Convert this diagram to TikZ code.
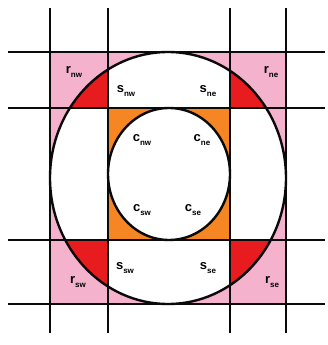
\documentclass[tikz,border=0pt]{standalone}
\usepackage{fontspec}
\setmainfont{Liberation Sans}
\usepackage{xcolor}
\usepackage{tikz}
\usetikzlibrary{positioning}
\definecolor{rpink}{RGB}{244,178,204}
\definecolor{rred}{RGB}{232,28,30}
\definecolor{corange}{RGB}{246,134,36}
\definecolor{lgray}{RGB}{10,10,10}

\newcommand{\lab}[2]{#1\raisebox{-0.45ex}{\fontsize{8}{8}\selectfont #2}}

\begin{document}
\begin{tikzpicture}[
  x=1pt,y=-1pt,
  font=\fontsize{13}{13}\selectfont\bfseries,
  ln/.style={line width=2.6pt,lgray},
  rim/.style={line width=2.4pt,lgray},
  lbl/.style={inner sep=0pt},
  ]
  \useasboundingbox (0,0) rectangle (327,345);
  % regions
  \fill[rpink] (50,52) rectangle (286,304);
  \fill[white] (168,178) ellipse [x radius=118,y radius=126];
  \begin{scope}
    \clip (168,178) ellipse [x radius=118,y radius=126];
    \fill[rred] (50,52) rectangle (108,108);
    \fill[rred] (230,52) rectangle (286,108);
    \fill[rred] (50,240) rectangle (108,304);
    \fill[rred] (230,240) rectangle (286,304);
  \end{scope}
  \fill[corange] (108,108) rectangle (230,240);
  \fill[white] (169,174) ellipse [x radius=61,y radius=66];
  % outlines
  \draw[rim] (168,178) ellipse [x radius=118,y radius=126];
  \draw[rim] (169,174) ellipse [x radius=61,y radius=66];
  % grid
  \foreach \gx in {50,108,230,286}
    \draw[ln] (\gx,8) -- (\gx,333);
  \foreach \gy in {52,108,240,304}
    \draw[ln] (8,\gy) -- (325,\gy);
  % labels
  \node[lbl] (rnw) at (74,72)   {\lab{r}{nw}};
  \node[lbl] (rne) at (271,72)  {\lab{r}{ne}};
  \node[lbl] (snw) at (126,91)  {\lab{s}{nw}};
  \node[lbl] (sne) at (208,91)  {\lab{s}{ne}};
  \node[lbl] (cnw) at (142,140) {\lab{c}{nw}};
  \node[lbl] (cne) at (202,140) {\lab{c}{ne}};
  \node[lbl] (csw) at (142,210) {\lab{c}{sw}};
  \node[lbl] (cse) at (193,210) {\lab{c}{se}};
  \node[lbl] (ssw) at (125,268) {\lab{s}{sw}};
  \node[lbl] (sse) at (208,268) {\lab{s}{se}};
  \node[lbl] (rsw) at (78,282)  {\lab{r}{sw}};
  \node[lbl] (rse) at (272,282) {\lab{r}{se}};
\end{tikzpicture}
\end{document}
